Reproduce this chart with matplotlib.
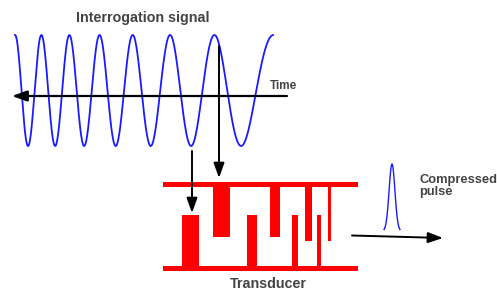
import numpy as np
import matplotlib.pyplot as plt
from matplotlib.patches import Rectangle

# chirp drawn through its read-off extrema (pixel x), peaks and troughs alternate
extrema_x = [15, 28, 42, 55, 69, 84, 99, 116, 133, 151, 171, 191, 212, 243, 273]
sig_top, sig_bottom = 35, 146

# transducer electrodes: (left, right, free end y)
top_fingers = [(213, 230, 237), (270, 280, 237), (305, 312, 241), (328, 331, 241)]
bottom_fingers = [(182, 199, 215), (247, 257, 215), (292, 298, 215), (317, 321, 215)]
bar_left, bar_right = 163, 358
top_bar = (182, 187)
bottom_bar = (266, 271)

# compressed pulse: base left/right, peak x, peak y, base y
pulse = (384, 400, 392, 164, 231)

txt = "#444444"
plt.rcParams['font.family'] = ['Liberation Sans', 'DejaVu Sans']

fig = plt.figure(figsize=(4.97, 2.90), dpi=100)
ax = fig.add_axes([0, 0, 1, 1])
ax.set_xlim(0, 497)
ax.set_ylim(290, 0)
ax.axis('off')

head = "-|>,head_length=0.75,head_width=0.27"

def arrow(x0, y0, x1, y1, lw=1.4):
    ax.annotate("", xy=(x1, y1), xytext=(x0, y0),
                arrowprops=dict(arrowstyle=head, color="black", lw=lw, mutation_scale=12,
                                shrinkA=0, shrinkB=0))

# signal
phase_fit = np.polyfit(extrema_x, np.arange(len(extrema_x)) * np.pi, 3)
xs = np.linspace(extrema_x[0], extrema_x[-1], 800)
mid = (sig_top + sig_bottom) / 2
amp = (sig_bottom - sig_top) / 2
ax.plot(xs, mid - amp * np.cos(np.polyval(phase_fit, xs)), color="#1a1aff", lw=1.3)

# time axis
arrow(287, 96, 12, 96, lw=1.6)
ax.text(270, 86, "Time", color=txt, fontsize=8.5, fontweight="bold", ha="left", va="center")
ax.text(143, 18, "Interrogation signal", color=txt, fontsize=10.3, fontweight="bold",
        ha="center", va="center")

# arrows into transducer
arrow(219, 46, 219, 178)
arrow(192, 151, 192, 213)

# transducer
red = "#ff0000"
for y0, y1 in (top_bar, bottom_bar):
    ax.add_patch(Rectangle((bar_left, y0), bar_right - bar_left, y1 - y0, color=red, lw=0))
for l, r, end in top_fingers:
    ax.add_patch(Rectangle((l, top_bar[1]), r - l, end - top_bar[1], color=red, lw=0))
for l, r, end in bottom_fingers:
    ax.add_patch(Rectangle((l, end), r - l, bottom_bar[0] - end, color=red, lw=0))
ax.text(268, 284, "Transducer", color=txt, fontsize=10.3, fontweight="bold", ha="center", va="center")

# output
arrow(352, 235.5, 443, 238)
pl, pr, pc, py, pb = pulse
px = np.linspace(pl, pr, 100)
sd = (pr - pl) / 5.5
ax.plot(px, pb - (pb - py) * np.exp(-0.5 * ((px - pc) / sd) ** 2), color="#1a1aff", lw=1.0)
ax.text(419, 186, "Compressed\npulse", color=txt, fontsize=9.3, fontweight="bold",
        ha="left", va="center", linespacing=1.0)

fig.savefig("out.png", dpi=100)
